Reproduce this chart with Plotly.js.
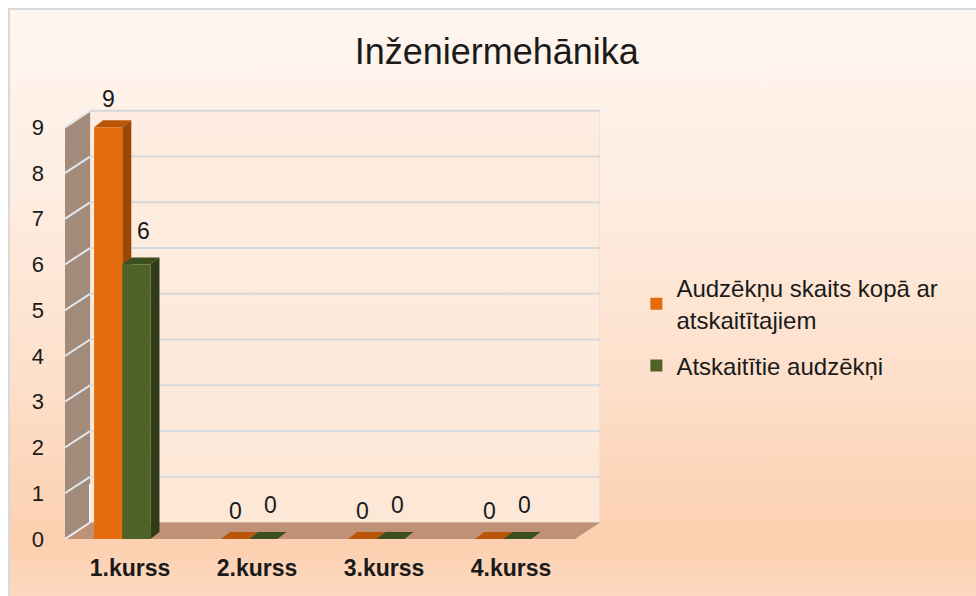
<!DOCTYPE html>
<html>
<head>
<meta charset="utf-8">
<script src="https://cdn.plot.ly/plotly-3.0.1.min.js"></script>
<style>
  html, body { margin: 0; padding: 0; background: #ffffff; }
  #frame {
    position: absolute; left: 8px; top: 8px; width: 990px; height: 610px;
    border: 2px solid #d9d9d9; box-sizing: border-box;
    background: linear-gradient(to bottom, #fff6f0 0%, #feede1 30%, #fde0cb 60%, #fcd0b0 88%, #fddcc5 100%);
  }
  #chart { position: absolute; left: 0; top: 0; width: 976px; height: 596px; }
</style>
</head>
<body>
<div id="frame"></div>
<div id="chart"></div>
<script>
// ---- data ----
const categories = ["1.kurss", "2.kurss", "3.kurss", "4.kurss"];
const seriesNames = ["Audzēkņu skaits kopā ar<br>atskaitītajiem", "Atskaitītie audzēkņi"];
const totalStudents = [9, 0, 0, 0];
const expelledStudents = [6, 0, 0, 0];
const yTicks = [0, 1, 2, 3, 4, 5, 6, 7, 8, 9];
const chartTitle = "Inženiermehānika";

// ---- style / geometry ----
const X0 = -0.512, X1 = 3.701;    // x range (category units)
const Y1 = 9.4;                   // y range top
const DX = 0.197, DY = 0.36;      // wall depth
const BW = 0.222;                 // bar width
const offsets = [-0.283, -0.061]; // bar offsets
const bdx = 0.071, bdy = 0.153;   // bar depth
const colors = [
  {front: "#e46c0a", top: "#b95608", side: "#9b4706"},
  {front: "#4f6228", top: "#3e4f1f", side: "#2f3c17"}
];
const labelShift = [{x: 0, y: 28}, {x: 7, y: 34}];
const values = [totalStudents, expelledStudents];

const shapes = [];
// back wall
shapes.push({type: "rect", xref: "x", yref: "y", x0: X0 + DX, x1: X1, y0: DY, y1: 9 + DY,
  fillcolor: "rgba(253,235,221,0.85)", line: {color: "#dcdcdc", width: 1}, layer: "below"});
// side wall
shapes.push({type: "path", xref: "x", yref: "y",
  path: `M ${X0},0 L ${X0},9 L ${X0 + DX},${9 + DY} L ${X0 + DX},${DY} Z`,
  fillcolor: "#a38b7b", line: {width: 0}, layer: "below"});
// floor
shapes.push({type: "path", xref: "x", yref: "y",
  path: `M ${X0},0 L ${X1 - DX},0 L ${X1},${DY} L ${X0 + DX},${DY} Z`,
  fillcolor: "#bf9278", line: {width: 0}, layer: "below"});
// gridlines
yTicks.forEach(k => {
  if (k === 0) return;
  shapes.push({type: "line", xref: "x", yref: "y", x0: X0 + DX, x1: X1, y0: k + DY, y1: k + DY,
    line: {color: "#d6dadd", width: 2}, layer: "below"});
  shapes.push({type: "line", xref: "x", yref: "y", x0: X0, x1: X0 + DX, y0: k, y1: k + DY,
    line: {color: "#e2e6ea", width: 2}, layer: "below"});
});
shapes.push({type: "line", xref: "x", yref: "y", x0: X0, x1: X0 + DX, y0: 0, y1: DY,
  line: {color: "#e8ecef", width: 2}, layer: "below"});
shapes.push({type: "line", xref: "x", yref: "y", x0: X0 + DX, x1: X0 + DX, y0: DY, y1: 1.2,
  line: {color: "#f4f4f4", width: 2}, layer: "below"});

// 3D faces of bars
values.forEach((vals, s) => {
  vals.forEach((v, i) => {
    const a = i + offsets[s], b = a + BW;
    shapes.push({type: "path", xref: "x", yref: "y",
      path: `M ${a},${v} L ${b},${v} L ${b + bdx},${v + bdy} L ${a + bdx},${v + bdy} Z`,
      fillcolor: colors[s].top, line: {width: 0}, layer: "below"});
    if (v > 0) {
      shapes.push({type: "path", xref: "x", yref: "y",
        path: `M ${b},0 L ${b},${v} L ${b + bdx},${v + bdy} L ${b + bdx},${bdy} Z`,
        fillcolor: colors[s].side, line: {width: 0}, layer: "below"});
    }
  });
});

// data labels
const annotations = [];
values.forEach((vals, s) => {
  vals.forEach((v, i) => {
    annotations.push({x: i + offsets[s] + BW / 2, y: v, xref: "x", yref: "y",
      text: String(v), showarrow: false, xanchor: "center", yanchor: "middle",
      xshift: labelShift[s].x, yshift: labelShift[s].y,
      font: {family: "Liberation Sans, Arial, sans-serif", size: 23, color: "#1a1a1a"}});
  });
});

const traces = values.map((vals, s) => ({
  type: "bar", x: categories.map((c, i) => i), y: vals, name: seriesNames[s],
  width: BW, offset: offsets[s], legendgroup: "g" + s,
  marker: {color: colors[s].front, line: {width: 0}},
  hoverinfo: "skip"
}));

const layout = {
  width: 976, height: 596,
  paper_bgcolor: "rgba(0,0,0,0)", plot_bgcolor: "rgba(0,0,0,0)",
  margin: {l: 65, r: 376, t: 109, b: 57},
  barmode: "group",
  title: {text: chartTitle, x: 0.509, xref: "container", y: 0.913, yref: "container",
    xanchor: "center", yanchor: "middle",
    font: {family: "Liberation Sans, Arial, sans-serif", size: 36, color: "#1a1a1a"}},
  xaxis: {range: [X0, X1], tickvals: categories.map((c, i) => i), ticktext: categories,
    showgrid: false, zeroline: false, showline: false, ticks: "", ticklabelstandoff: 13,
    tickfont: {family: "Liberation Sans, Arial, sans-serif", size: 23, color: "#1a1a1a", weight: "bold"},
    fixedrange: true},
  yaxis: {range: [0, Y1], tickvals: yTicks, showgrid: false, zeroline: false, showline: false,
    ticks: "", ticklabelstandoff: 20,
    tickfont: {family: "Liberation Sans, Arial, sans-serif", size: 22, color: "#1a1a1a"},
    fixedrange: true},
  legend: {x: 1.068, y: 0.635, xanchor: "left", yanchor: "top", bgcolor: "rgba(0,0,0,0)",
    font: {family: "Liberation Sans, Arial, sans-serif", size: 24, color: "#1a1a1a"},
    traceorder: "grouped", tracegroupgap: 12, itemwidth: 30},
  shapes: shapes,
  annotations: annotations,
  showlegend: true
};

Plotly.newPlot("chart", traces, layout, {displayModeBar: false, staticPlot: true});
</script>
</body>
</html>
